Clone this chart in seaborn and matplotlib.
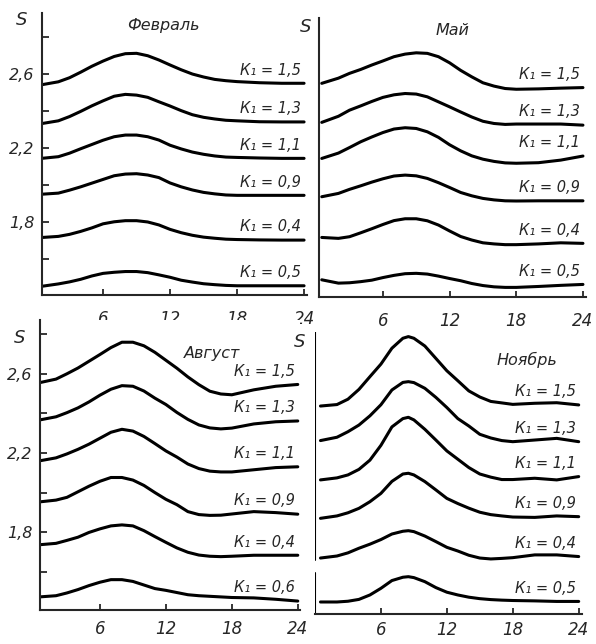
import matplotlib
matplotlib.use("Agg")
import matplotlib.pyplot as plt
import pandas as pd
import seaborn as sns

# hours of the day, sampled along every curve
HOURS = [0.5, 2, 3, 4, 5, 6, 7, 8, 9, 10, 11, 12, 13, 14, 15, 16, 17, 18, 20, 22, 24]
HOURS_NOV = [0.5, 2, 3, 4, 5, 6, 7, 8, 8.5, 9, 10, 11, 12, 13, 14, 15, 16, 17, 18, 20, 22, 24]

# Февраль
FEB_K = ["1,5", "1,3", "1,1", "0,9", "0,4", "0,5"]
FEB_S = [
    [2.542, 2.558, 2.580, 2.610, 2.642, 2.670, 2.695, 2.710, 2.712, 2.699, 2.676, 2.649, 2.623, 2.600, 2.584, 2.571, 2.564, 2.559, 2.553, 2.550, 2.550],
    [2.332, 2.347, 2.370, 2.398, 2.428, 2.455, 2.480, 2.490, 2.486, 2.474, 2.450, 2.427, 2.402, 2.380, 2.366, 2.357, 2.350, 2.347, 2.342, 2.341, 2.341],
    [2.144, 2.153, 2.172, 2.196, 2.219, 2.242, 2.261, 2.270, 2.270, 2.261, 2.243, 2.215, 2.195, 2.178, 2.166, 2.157, 2.151, 2.149, 2.146, 2.144, 2.144],
    [1.950, 1.956, 1.972, 1.990, 2.010, 2.030, 2.050, 2.059, 2.061, 2.054, 2.040, 2.011, 1.990, 1.973, 1.960, 1.952, 1.946, 1.944, 1.944, 1.944, 1.944],
    [1.716, 1.722, 1.733, 1.749, 1.768, 1.790, 1.801, 1.807, 1.807, 1.800, 1.784, 1.760, 1.742, 1.728, 1.718, 1.712, 1.707, 1.705, 1.703, 1.702, 1.702],
    [1.452, 1.465, 1.476, 1.490, 1.508, 1.522, 1.528, 1.532, 1.532, 1.526, 1.514, 1.501, 1.485, 1.475, 1.466, 1.461, 1.457, 1.455, 1.455, 1.455, 1.455],
]

# Май
MAY_K = ["1,5", "1,3", "1,1", "0,9", "0,4", "0,5"]
MAY_S = [
    [2.550, 2.578, 2.604, 2.625, 2.649, 2.671, 2.694, 2.708, 2.715, 2.712, 2.694, 2.661, 2.620, 2.585, 2.553, 2.535, 2.522, 2.518, 2.520, 2.524, 2.527],
    [2.339, 2.372, 2.405, 2.428, 2.452, 2.474, 2.488, 2.495, 2.492, 2.477, 2.450, 2.423, 2.395, 2.368, 2.345, 2.333, 2.328, 2.330, 2.330, 2.330, 2.324],
    [2.144, 2.173, 2.203, 2.234, 2.260, 2.284, 2.303, 2.310, 2.306, 2.288, 2.258, 2.218, 2.185, 2.158, 2.140, 2.128, 2.120, 2.118, 2.121, 2.135, 2.157],
    [1.937, 1.955, 1.977, 1.996, 2.016, 2.034, 2.049, 2.054, 2.050, 2.036, 2.013, 1.987, 1.960, 1.942, 1.928, 1.920, 1.915, 1.914, 1.915, 1.915, 1.915],
    [1.717, 1.712, 1.721, 1.742, 1.764, 1.787, 1.808, 1.818, 1.818, 1.807, 1.784, 1.752, 1.722, 1.703, 1.688, 1.682, 1.678, 1.678, 1.682, 1.688, 1.685],
    [1.488, 1.470, 1.472, 1.478, 1.486, 1.500, 1.512, 1.521, 1.523, 1.519, 1.508, 1.495, 1.483, 1.468, 1.457, 1.450, 1.447, 1.447, 1.452, 1.458, 1.463],
]

# Август
AUG_K = ["1,5", "1,3", "1,1", "0,9", "0,4", "0,6"]
AUG_S = [
    [2.555, 2.573, 2.600, 2.629, 2.663, 2.697, 2.732, 2.759, 2.759, 2.741, 2.708, 2.668, 2.628, 2.584, 2.545, 2.512, 2.498, 2.494, 2.519, 2.537, 2.546],
    [2.367, 2.383, 2.404, 2.428, 2.458, 2.492, 2.522, 2.540, 2.537, 2.513, 2.477, 2.445, 2.405, 2.370, 2.342, 2.327, 2.322, 2.326, 2.347, 2.358, 2.362],
    [2.161, 2.176, 2.196, 2.219, 2.245, 2.275, 2.305, 2.320, 2.311, 2.284, 2.248, 2.211, 2.180, 2.145, 2.122, 2.109, 2.105, 2.105, 2.116, 2.127, 2.131],
    [1.954, 1.963, 1.977, 2.005, 2.033, 2.058, 2.077, 2.077, 2.064, 2.037, 2.001, 1.967, 1.940, 1.905, 1.890, 1.886, 1.887, 1.893, 1.905, 1.900, 1.892],
    [1.738, 1.745, 1.760, 1.776, 1.800, 1.818, 1.833, 1.838, 1.833, 1.809, 1.779, 1.750, 1.722, 1.700, 1.686, 1.680, 1.678, 1.680, 1.685, 1.685, 1.685],
    [1.475, 1.481, 1.495, 1.512, 1.532, 1.549, 1.562, 1.562, 1.553, 1.535, 1.517, 1.508, 1.497, 1.486, 1.481, 1.478, 1.475, 1.472, 1.470, 1.463, 1.454],
]

# Ноябрь
NOV_K = ["1,5", "1,3", "1,1", "0,9", "0,4", "0,5"]
NOV_S = [
    [2.513, 2.521, 2.550, 2.603, 2.672, 2.740, 2.826, 2.880, 2.889, 2.880, 2.838, 2.771, 2.704, 2.650, 2.595, 2.562, 2.538, 2.530, 2.522, 2.528, 2.531, 2.519],
    [2.326, 2.344, 2.374, 2.410, 2.460, 2.520, 2.600, 2.641, 2.645, 2.640, 2.609, 2.560, 2.505, 2.445, 2.405, 2.360, 2.340, 2.326, 2.320, 2.329, 2.338, 2.320],
    [2.113, 2.124, 2.140, 2.170, 2.220, 2.300, 2.400, 2.445, 2.452, 2.438, 2.387, 2.329, 2.270, 2.225, 2.180, 2.145, 2.128, 2.115, 2.115, 2.122, 2.113, 2.131],
    [1.905, 1.918, 1.935, 1.959, 1.995, 2.040, 2.105, 2.145, 2.149, 2.140, 2.104, 2.059, 2.013, 1.985, 1.960, 1.938, 1.925, 1.918, 1.912, 1.910, 1.918, 1.914],
    [1.690, 1.701, 1.718, 1.743, 1.765, 1.790, 1.820, 1.835, 1.838, 1.833, 1.809, 1.779, 1.748, 1.728, 1.705, 1.690, 1.685, 1.688, 1.692, 1.707, 1.707, 1.698],
    [1.452, 1.452, 1.456, 1.466, 1.490, 1.526, 1.568, 1.586, 1.589, 1.584, 1.562, 1.530, 1.505, 1.490, 1.478, 1.470, 1.465, 1.462, 1.460, 1.458, 1.455, 1.455],
]

sns.set_style("ticks")
FONT = ["Liberation Sans Narrow", "DejaVu Sans"]
plt.rcParams["font.family"] = FONT
plt.rcParams["axes.linewidth"] = 1.5

fig = plt.figure(figsize=(5.96, 6.44), dpi=100)

# title, hours, K labels, curves, rect, xlim, ylim, title pos, S pos, y labels, x label pad
panels = [
    ("Февраль", HOURS, FEB_K, FEB_S, [0.0698, 0.5419, 0.446, 0.4379], (0.5, 24.3), (1.405, 2.93), (0.457, 0.957), (-0.074, 0.975), True, 11),
    ("Май", HOURS, MAY_K, MAY_S, [0.5352, 0.5388, 0.4485, 0.4332], (0.25, 24.3), (1.395, 2.903), (0.501, 0.957), (-0.049, 0.968), False, 11),
    ("Август", HOURS, AUG_K, AUG_S, [0.0663, 0.0528, 0.437, 0.4503], (0.5, 24.2), (1.409, 2.871), (0.662, 0.886), (-0.075, 0.938), True, 7),
    ("Ноябрь", HOURS_NOV, NOV_K, NOV_S, [0.5285, 0.0466, 0.448, 0.4379], (0.0, 24.3), (1.387, 2.914), (0.794, 0.90), (-0.056, 0.965), False, 5),
]

for title, hours, ks, curves, rect, xlim, ylim, tpos, spos, ylab, xpad in panels:
    ax = fig.add_axes(rect)
    rows = []
    for k, vals in zip(ks, curves):
        for h, s in zip(hours, vals):
            rows.append({"hour": h, "S": s, "K": k})
    df = pd.DataFrame(rows)
    sns.lineplot(data=df, x="hour", y="S", units="K", estimator=None,
                 color="black", lw=2.2, ax=ax, legend=False)
    for line in ax.lines:
        line.set_solid_joinstyle("round")
        line.set_solid_capstyle("round")
    for k, vals in zip(ks, curves):
        ax.annotate(f"К₁ = {k}", xy=(hours[-1], vals[-1]), xytext=(-2, 9.5),
                    textcoords="offset points", ha="right", va="center",
                    fontsize=10.5, fontstyle="italic")

    ax.set_xlim(*xlim)
    ax.set_ylim(*ylim)
    ax.set_xlabel("")
    ax.set_ylabel("")
    sns.despine(ax=ax)

    ax.set_xticks([6, 12, 18, 24])
    ax.set_xticklabels(["6", "12", "18", "24"], fontstyle="italic", fontsize=12)
    ax.tick_params(axis="x", direction="in", length=4, width=1.3, pad=xpad)
    if ylab:
        ax.set_yticks([1.8, 2.2, 2.6])
        ax.set_yticklabels(["1,8", "2,2", "2,6"], fontstyle="italic", fontsize=11.5)
        ax.set_yticks([1.6, 2.0, 2.4, 2.8], minor=True)
        ax.tick_params(axis="y", which="both", direction="in", length=5, width=1.3, pad=5)
    else:
        ax.set_yticks([])

    ax.text(tpos[0], tpos[1], title, transform=ax.transAxes, ha="center",
            va="center", fontsize=11.5, fontstyle="italic")
    ax.text(spos[0], spos[1], "S", transform=ax.transAxes, ha="center",
            va="center", fontsize=13, fontstyle="italic")

    if title == "Ноябрь":
        # broken S axis near the bottom curve
        ax.spines["left"].set_visible(False)
        ax.axvline(xlim[0], 0, 0.145, color="black", lw=1.5)
        ax.axvline(xlim[0], 0.191, 1, color="black", lw=1.5)

fig.savefig("out.png", dpi=100)
